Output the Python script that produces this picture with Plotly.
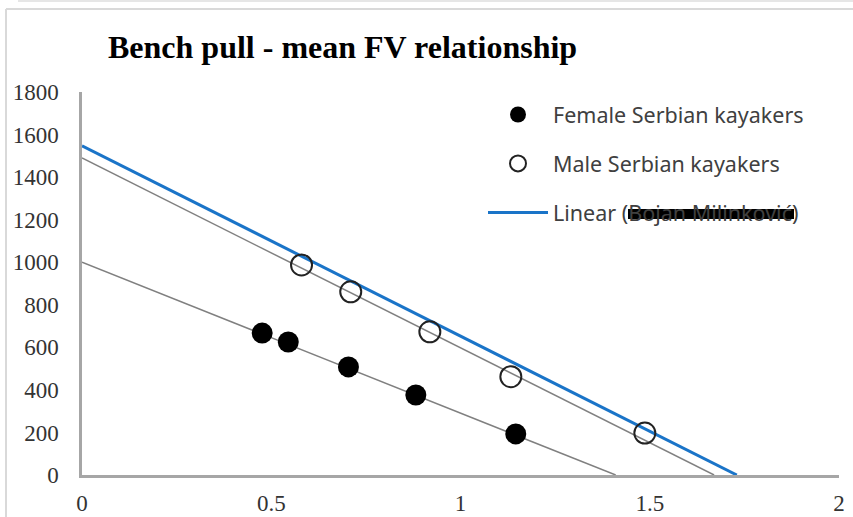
import plotly.graph_objects as go

# mean velocity (m/s) vs force (N)
female_v = [0.476, 0.545, 0.704, 0.882, 1.146]
female_f = [667, 625, 508, 376, 193]

male_v = [0.580, 0.710, 0.919, 1.133, 1.487]
male_f = [987, 861, 673, 462, 197]

# linear trend lines (start and end points)
female_fit_v = [0, 1.41]
female_fit_f = [1000, 0]
male_fit_v = [0, 1.67]
male_fit_f = [1490, 0]
all_fit_v = [0, 1.73]
all_fit_f = [1547, 0]

x_ticks = [0, 0.5, 1, 1.5, 2]
y_ticks = [0, 200, 400, 600, 800, 1000, 1200, 1400, 1600, 1800]

W, H = 853, 517
ml, mr, mt, mb = 82, 14, 92, 42
pw, ph = W - ml - mr, H - mt - mb


def px(x):
    return (x - ml) / pw


def py(y):
    return (H - mb - y) / ph


fig = go.Figure()

fig.add_trace(go.Scatter(x=female_fit_v, y=female_fit_f, mode='lines',
                         line=dict(color='#808080', width=1.5), showlegend=False))
fig.add_trace(go.Scatter(x=male_fit_v, y=male_fit_f, mode='lines',
                         line=dict(color='#808080', width=1.5), showlegend=False))
fig.add_trace(go.Scatter(x=all_fit_v, y=all_fit_f, mode='lines',
                         line=dict(color='#1a74c8', width=3),
                         name='Linear (Bojan Milinković)', legendrank=3,
                         legendgroup='c'))

fig.add_trace(go.Scatter(x=female_v, y=female_f, mode='markers',
                         marker=dict(color='black', size=21, line=dict(width=0)),
                         name='Female Serbian kayakers', legendrank=1,
                         legendgroup='a'))
fig.add_trace(go.Scatter(x=male_v, y=male_f, mode='markers',
                         marker=dict(symbol='circle-open', color='#222222', size=21,
                                     line=dict(width=2)),
                         name='Male Serbian kayakers', legendrank=2,
                         legendgroup='b'))

# frame around chart
fig.add_shape(type='line', xref='paper', yref='paper', x0=px(6), x1=px(853),
              y0=py(9), y1=py(9), line=dict(color='#d9d9d9', width=2))
fig.add_shape(type='line', xref='paper', yref='paper', x0=px(6), x1=px(6),
              y0=py(9), y1=py(517), line=dict(color='#d9d9d9', width=2))
fig.add_shape(type='line', xref='paper', yref='paper', x0=px(18), x1=px(853),
              y0=py(1), y1=py(1), line=dict(color='#e6e6e6', width=2))

# redaction over the name in the legend
fig.add_shape(type='line', xref='paper', yref='paper', x0=px(628), x1=px(794),
              y0=py(214), y1=py(214), line=dict(color='black', width=10))

fig.update_layout(
    width=W, height=H,
    margin=dict(l=ml, r=mr, t=mt, b=mb),
    paper_bgcolor='white', plot_bgcolor='white',
    title=dict(text='<b>Bench pull - mean FV relationship</b>',
               font=dict(family='Liberation Serif', size=32, color='black'),
               x=px(108), xanchor='left', xref='paper', y=1 - 47 / H, yanchor='middle'),
    legend=dict(x=px(483), y=py(94), xanchor='left', yanchor='top',
                font=dict(family='Noto Sans', size=21.5, color='#404040'),
                traceorder='grouped', tracegroupgap=18, itemwidth=60,
                bgcolor='rgba(0,0,0,0)'),
    xaxis=dict(range=[0, 2], tickvals=x_ticks, ticktext=[str(v) for v in x_ticks],
               showgrid=False, zeroline=False, showline=True, automargin=False,
               linecolor='#a6a6a6', linewidth=2.5,
               ticks='outside', ticklen=6, tickcolor='rgba(0,0,0,0)',
               tickfont=dict(family='Liberation Serif', size=23, color='#333333')),
    yaxis=dict(range=[0, 1800], tickvals=y_ticks, showgrid=False, zeroline=False,
               showline=True, linecolor='#a6a6a6', linewidth=2.5, automargin=False,
               ticks='outside', ticklen=16, tickcolor='rgba(0,0,0,0)',
               tickfont=dict(family='Liberation Serif', size=23, color='#333333')),
)

fig.write_html("out.html", config={'displayModeBar': False},
               post_script="document.body.style.margin='0';")
